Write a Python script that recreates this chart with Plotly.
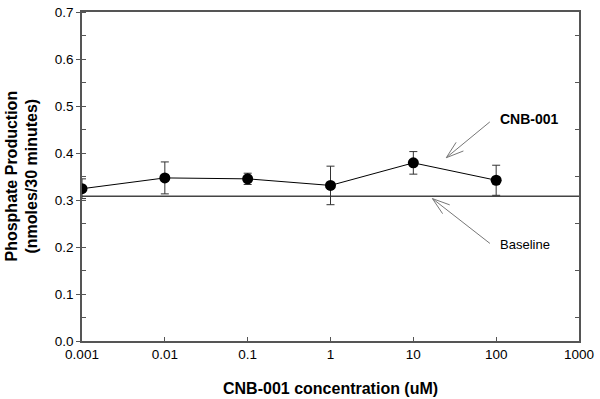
import numpy as np
import plotly.graph_objects as go

conc = [0.001, 0.01, 0.1, 1, 10, 100]
phosphate = [0.324, 0.347, 0.345, 0.331, 0.379, 0.342]
err = [0.021, 0.034, 0.012, 0.041, 0.024, 0.032]
baseline_x = [0.001, 1000]
baseline_value = 0.308
x_ticks = [0.001, 0.01, 0.1, 1, 10, 100, 1000]
x_tick_labels = ["0.001", "0.01", "0.1", "1", "10", "100", "1000"]

FONT = "Liberation Sans, Arial, sans-serif"
AX = "#555555"

fig = go.Figure()
fig.add_trace(go.Scatter(
    x=baseline_x, y=[baseline_value] * len(baseline_x), mode="lines",
    line=dict(color="#444444", width=1.5), hoverinfo="skip", showlegend=False))
fig.add_trace(go.Scatter(
    x=conc, y=phosphate, mode="lines+markers",
    line=dict(color="black", width=1),
    marker=dict(color="black", size=11),
    error_y=dict(type="data", array=err, color="#333333", thickness=1, width=4),
    showlegend=False))
fig.add_trace(go.Scatter(x=[conc[0]], y=[phosphate[0]], yaxis="y2", mode="markers",
                         marker=dict(opacity=0), showlegend=False, hoverinfo="skip"))

fig.update_layout(
    width=600, height=399,
    margin=dict(l=82, r=21, t=12, b=58),
    paper_bgcolor="white", plot_bgcolor="white",
    font=dict(family=FONT, size=13, color="black"),
    xaxis=dict(type="log", range=[-3, 3], tickvals=x_ticks, ticktext=x_tick_labels,
               ticks="inside", ticklen=4, tickcolor=AX, showgrid=False, zeroline=False,
               showline=True, linecolor=AX, linewidth=1.5, mirror=True, automargin=False,
               tickfont=dict(size=13.5)),
    yaxis=dict(range=[0, 0.7], dtick=0.1, tickformat=".1f", ticks="outside", ticklen=4,
               tickcolor=AX, showgrid=False, zeroline=False, showline=True,
               linecolor=AX, linewidth=1.5, automargin=False, tickfont=dict(size=13.5),
               minor=dict(dtick=0.05, ticks="inside", ticklen=4, tickcolor=AX, showgrid=False)),
    yaxis2=dict(range=[0, 0.7], overlaying="y", side="right", showticklabels=False,
                ticks="", showgrid=False, zeroline=False, showline=True, automargin=False,
                linecolor=AX, linewidth=1.5, dtick=0.1,
                minor=dict(dtick=0.05, ticks="inside", ticklen=4, tickcolor=AX, showgrid=False)),
)

# axis titles
fig.add_annotation(text="<b>CNB-001 concentration (uM)</b>", xref="paper", yref="paper",
                   x=0.5, y=-0.143, yanchor="middle", showarrow=False, font=dict(size=16))
fig.add_annotation(text="<b>Phosphate Production<br>(nmoles/30 minutes)</b>",
                   xref="paper", yref="paper", x=-0.1227, y=0.5, xanchor="center",
                   yanchor="middle", textangle=-90, showarrow=False, font=dict(size=16))

def arrow(head_x, head_y, tail_dx, tail_dy):
    hx = np.log10(head_x)
    fig.add_annotation(x=hx, y=head_y, ax=tail_dx, ay=tail_dy, text="", showarrow=True,
                       arrowhead=0, arrowwidth=1, arrowcolor="#777777", xref="x", yref="y")
    v = np.array([tail_dx, tail_dy], dtype=float)
    v = v / np.linalg.norm(v) * 20
    for ang in (np.radians(18), -np.radians(18)):
        r = np.array([[np.cos(ang), -np.sin(ang)], [np.sin(ang), np.cos(ang)]])
        b = r @ v
        fig.add_annotation(x=hx, y=head_y, ax=b[0], ay=b[1], text="", showarrow=True,
                           arrowhead=0, arrowwidth=1, arrowcolor="#777777", xref="x", yref="y")

arrow(25, 0.39, 45, -37)
arrow(17, 0.303, 59, 46)

fig.add_annotation(x=np.log10(25), y=0.39, ax=52, ay=-39, text="<b>CNB-001</b>",
                   showarrow=True, arrowcolor="rgba(0,0,0,0)", xanchor="left",
                   font=dict(size=14, color="black"))
fig.add_annotation(x=np.log10(17), y=0.303, ax=66, ay=46, text="Baseline",
                   showarrow=True, arrowcolor="rgba(0,0,0,0)", xanchor="left",
                   font=dict(size=13, color="black"))

fig.write_html("out.html", config={"displayModeBar": False},
               post_script="document.body.style.margin='0px';")
